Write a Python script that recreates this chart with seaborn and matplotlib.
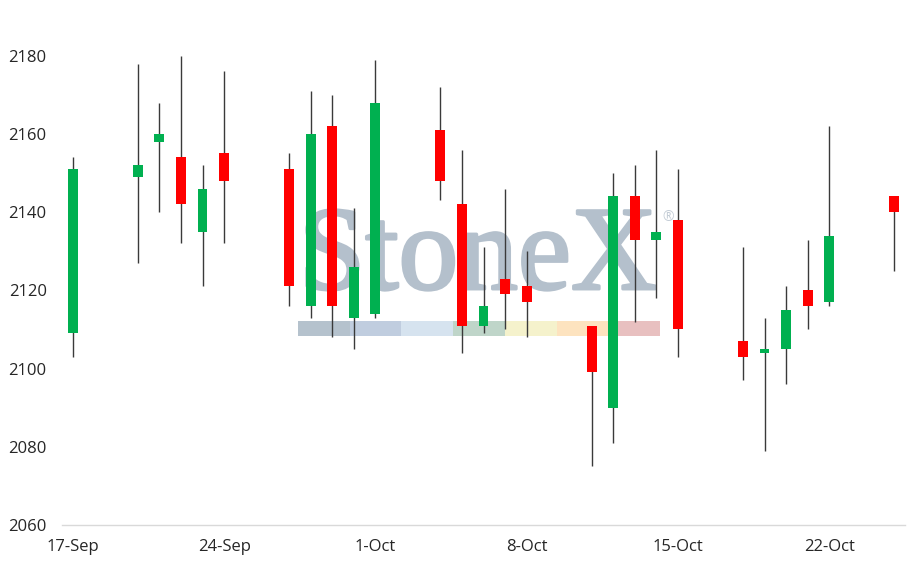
import pandas as pd
import matplotlib.pyplot as plt
import matplotlib.dates as mdates
import matplotlib.patheffects as pe
from matplotlib.patches import Rectangle
import seaborn as sns

# OHLC diario
datas = ["2021-09-17", "2021-09-20", "2021-09-21", "2021-09-22", "2021-09-23", "2021-09-24",
         "2021-09-27", "2021-09-28", "2021-09-29", "2021-09-30", "2021-10-01",
         "2021-10-04", "2021-10-05", "2021-10-06", "2021-10-07", "2021-10-08",
         "2021-10-11", "2021-10-12", "2021-10-13", "2021-10-14", "2021-10-15",
         "2021-10-18", "2021-10-19", "2021-10-20", "2021-10-21", "2021-10-22",
         "2021-10-25"]
abertura = [2109, 2149, 2158, 2154, 2135, 2155, 2151, 2116, 2162, 2113, 2114,
            2161, 2142, 2111, 2123, 2121, 2111, 2090, 2144, 2133, 2138,
            2107, 2104, 2105, 2120, 2117, 2144]
maxima = [2154, 2178, 2168, 2180, 2152, 2176, 2155, 2171, 2170, 2141, 2179,
          2172, 2156, 2131, 2146, 2130, 2111, 2150, 2152, 2156, 2151,
          2131, 2113, 2121, 2133, 2162, 2144]
minima = [2103, 2127, 2140, 2132, 2121, 2132, 2116, 2113, 2108, 2105, 2113,
          2143, 2104, 2109, 2110, 2108, 2075, 2081, 2112, 2118, 2103,
          2097, 2079, 2096, 2110, 2116, 2125]
fechamento = [2151, 2152, 2160, 2142, 2146, 2148, 2121, 2160, 2116, 2126, 2168,
              2148, 2111, 2116, 2119, 2117, 2099, 2144, 2133, 2135, 2110,
              2103, 2105, 2115, 2116, 2134, 2140]

ticks_datas = ["2021-09-17", "2021-09-24", "2021-10-01", "2021-10-08", "2021-10-15", "2021-10-22"]
ticks_labels = ["17-Sep", "24-Sep", "1-Oct", "8-Oct", "15-Oct", "22-Oct"]
ticks_y = [2060, 2080, 2100, 2120, 2140, 2160, 2180]

faixa_cores = ["#b5c2cd", "#c0cddf", "#d6e3ef", "#bfd5c9", "#f5f2cc", "#fde3bf", "#e8c0c0"]

df = pd.DataFrame({
    "data": pd.to_datetime(datas),
    "abertura": abertura,
    "maxima": maxima,
    "minima": minima,
    "fechamento": fechamento,
})
df["x"] = mdates.date2num(df["data"])
df["alta"] = df["fechamento"] >= df["abertura"]
df["base"] = df[["abertura", "fechamento"]].min(axis=1)
df["corpo"] = (df["fechamento"] - df["abertura"]).abs()

sns.set_theme(style="white")
plt.rcParams["font.family"] = ["Open Sans", "DejaVu Sans"]

fig = plt.figure(figsize=(9.2, 5.65), dpi=100)
ax = fig.add_axes([0.0674, 0.0708, 0.9163, 0.8306])

# marca d'agua
ax.text(0.281, 0.503, "StoneX", transform=ax.transAxes, fontsize=86,
        family="Liberation Serif", color="#b4c0cc", ha="left", va="baseline", zorder=0,
        path_effects=[pe.withStroke(linewidth=2.2, foreground="#b4c0cc")])
ax.text(0.719, 0.656, "®", transform=ax.transAxes, fontsize=10,
        color="#c4cdd6", ha="center", va="center", zorder=0)
larg = (0.7094 - 0.28) / len(faixa_cores)
for i, cor in enumerate(faixa_cores):
    ax.add_patch(Rectangle((0.28 + i * larg, 0.4034), larg, 0.0319,
                           transform=ax.transAxes, color=cor, lw=0, zorder=0))

# pavios e corpos
ax.vlines(df["x"], df["minima"], df["maxima"], color="#3a3a3a", lw=1.0, zorder=2, clip_on=False)
cores = df["alta"].map({True: "#00b050", False: "#ff0000"})
ax.bar(df["x"], df["corpo"], bottom=df["base"], width=0.46, color=cores,
       linewidth=0, zorder=3, clip_on=False)

ax.set_xlim(df["x"].iloc[0] - 0.5, df["x"].iloc[-1] + 0.5)
ax.set_ylim(2060, 2180)
ax.set_xticks(mdates.date2num(pd.to_datetime(ticks_datas)))
ax.set_xticklabels(ticks_labels)
ax.set_yticks(ticks_y)

for lado in ["top", "right", "left"]:
    ax.spines[lado].set_visible(False)
ax.spines["bottom"].set_color("#d9d9d9")
ax.spines["bottom"].set_linewidth(1.0)
ax.tick_params(axis="both", length=0, labelsize=12, colors="#262626")
ax.tick_params(axis="y", pad=11)
ax.tick_params(axis="x", pad=10)
ax.grid(False)

fig.savefig("out.png", dpi=100)
